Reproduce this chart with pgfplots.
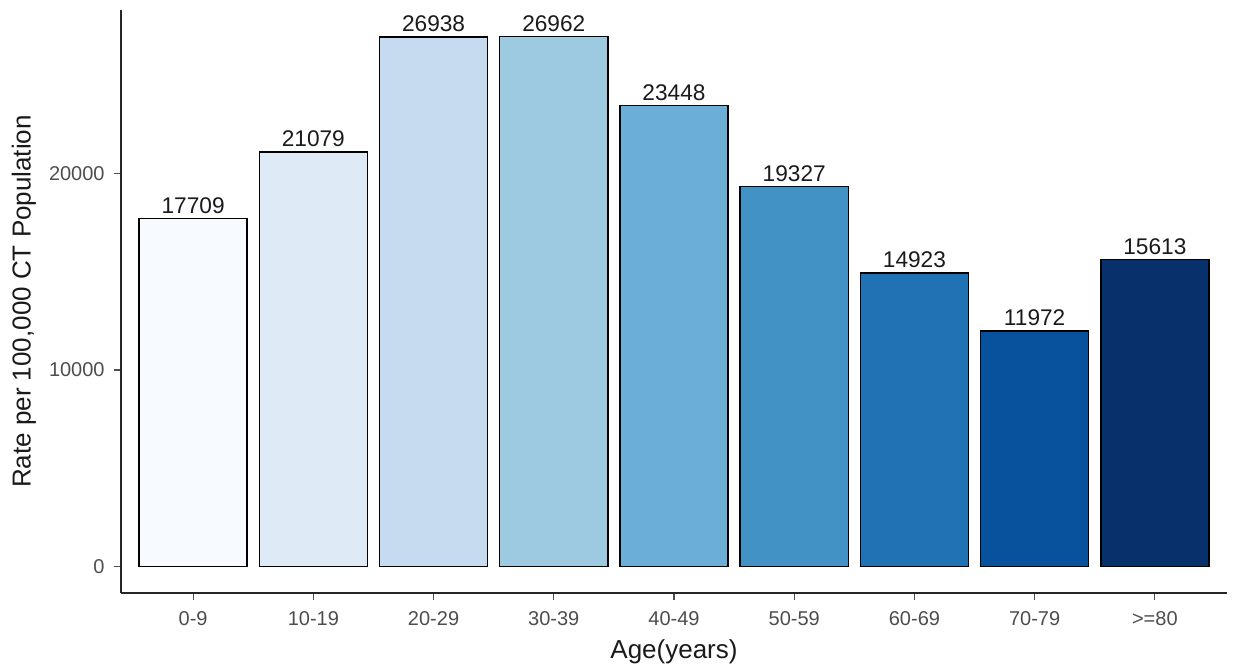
\documentclass[border=0pt]{standalone}
\usepackage{fontspec}
\setmainfont{Liberation Sans}
\usepackage{pgfplots}
\pgfplotsset{compat=1.18}
\definecolor{b1}{HTML}{F7FBFF}
\definecolor{b2}{HTML}{DEEBF7}
\definecolor{b3}{HTML}{C6DBEF}
\definecolor{b4}{HTML}{9ECAE1}
\definecolor{b5}{HTML}{6BAED6}
\definecolor{b6}{HTML}{4292C6}
\definecolor{b7}{HTML}{2171B5}
\definecolor{b8}{HTML}{08519C}
\definecolor{b9}{HTML}{08306B}
\definecolor{tickgray}{HTML}{4D4D4D}
\definecolor{txt}{HTML}{1A1A1A}
\pgfplotsset{
  mybar/.style={ybar, bar width=0.9, bar shift=0pt, draw=black, line width=1.1pt, fill=#1,
    nodes near coords,
    nodes near coords style={text=txt, draw=none, fill=none, anchor=south, inner sep=0pt, yshift=3.2pt,
      font=\fontsize{17}{19}\selectfont,
      /pgf/number format/fixed, /pgf/number format/precision=0, /pgf/number format/1000 sep={},
      /pgf/number format/assume math mode=true}},
}
\begin{document}
\begin{tikzpicture}
\begin{axis}[
  scale only axis,
  width=829.5pt, height=437.25pt,
  xmin=-0.6, xmax=8.6, ymin=-1348, ymax=28310,
  axis x line=bottom, axis y line=left,
  axis line style={-, line width=1.1pt, black!85},
  xtick={0,1,2,3,4,5,6,7,8},
  xticklabels={0-9,10-19,20-29,30-39,40-49,50-59,60-69,70-79,>=80},
  ytick={0,10000,20000},
  scaled y ticks=false,
  tick align=outside, major tick length=5.25pt,
  tick style={line width=0.9pt, tickgray},
  tick label style={font=\fontsize{15}{18}\selectfont, text=tickgray},
  yticklabel style={/pgf/number format/fixed, /pgf/number format/1000 sep={},
    /pgf/number format/assume math mode=true, xshift=-3.5pt},
  xticklabel style={yshift=-5pt},
  every axis y label/.style={at={(axis description cs:-0.0877,0.5)}, rotate=90, anchor=center},
  every axis x label/.style={at={(axis description cs:0.5,-0.1005)}, anchor=center},
  label style={font=\fontsize{19.5}{22}\selectfont, text=txt},
  xlabel={Age(years)},
  ylabel={Rate per 100,000 CT Population},
  clip=false,
]
\addplot[mybar=b1] coordinates {(0,17709)};
\addplot[mybar=b2] coordinates {(1,21079)};
\addplot[mybar=b3] coordinates {(2,26938)};
\addplot[mybar=b4] coordinates {(3,26962)};
\addplot[mybar=b5] coordinates {(4,23448)};
\addplot[mybar=b6] coordinates {(5,19327)};
\addplot[mybar=b7] coordinates {(6,14923)};
\addplot[mybar=b8] coordinates {(7,11972)};
\addplot[mybar=b9] coordinates {(8,15613)};
\end{axis}
\pgfresetboundingbox
\path[use as bounding box] (-90.75pt,-56.25pt) rectangle (834pt,444.75pt);
\end{tikzpicture}
\end{document}
